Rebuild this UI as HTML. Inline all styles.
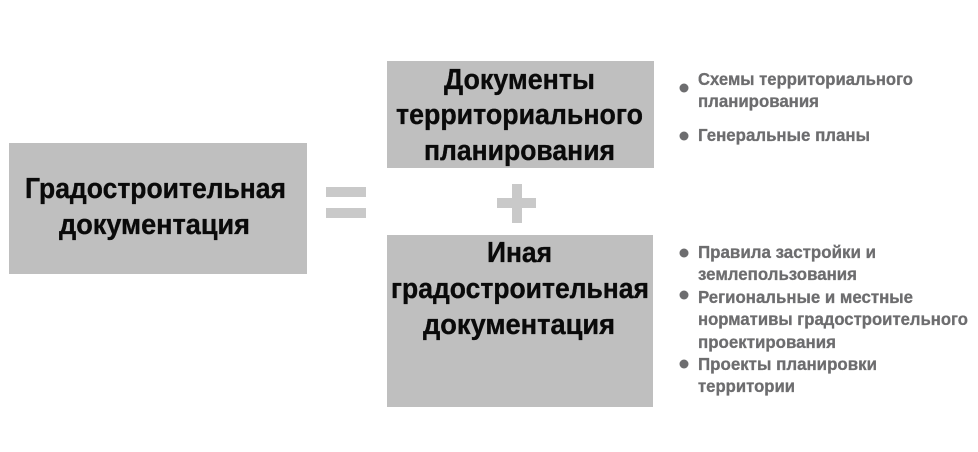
<!DOCTYPE html>
<html lang="ru">
<head>
<meta charset="utf-8">
<style>
html,body{margin:0;padding:0;background:#fff;width:978px;height:452px;overflow:hidden}
svg{display:block}
text{font-family:"Liberation Sans",sans-serif;font-weight:700}
.h{font-size:29px;fill:#0a0a0a;stroke:#0a0a0a;stroke-width:.35px}
.l{font-size:17.5px;fill:#6d6d6f;stroke:#6d6d6f;stroke-width:.3px}
</style>
</head>
<body>
<svg width="978" height="452" viewBox="0 0 978 452" xmlns="http://www.w3.org/2000/svg">
<rect x="9" y="143" width="298" height="131" fill="#bfbfbf"/>
<rect x="387" y="61" width="267" height="107" fill="#bfbfbf"/>
<rect x="387" y="235" width="266" height="172" fill="#bfbfbf"/>
<rect x="326" y="187" width="40" height="10" fill="#c9c9c9"/>
<rect x="326" y="208" width="40" height="10" fill="#c9c9c9"/>
<rect x="497" y="198" width="39" height="10" fill="#c9c9c9"/>
<rect x="512" y="184" width="10" height="39" fill="#c9c9c9"/>

<text class="h" x="25" y="198" textLength="261" lengthAdjust="spacingAndGlyphs">Градостроительная</text>
<text class="h" x="59" y="234" textLength="191" lengthAdjust="spacingAndGlyphs">документация</text>

<text class="h" x="444" y="89" textLength="151" lengthAdjust="spacingAndGlyphs">Документы</text>
<text class="h" x="396" y="124" textLength="247" lengthAdjust="spacingAndGlyphs">территориального</text>
<text class="h" x="424" y="160" textLength="191" lengthAdjust="spacingAndGlyphs">планирования</text>

<text class="h" x="487" y="262" textLength="65" lengthAdjust="spacingAndGlyphs">Иная</text>
<text class="h" x="391" y="298" textLength="258" lengthAdjust="spacingAndGlyphs">градостроительная</text>
<text class="h" x="423" y="334" textLength="192" lengthAdjust="spacingAndGlyphs">документация</text>

<circle cx="684" cy="88" r="4.5" fill="#6d6d6f"/>
<circle cx="684" cy="136" r="4.5" fill="#6d6d6f"/>
<circle cx="684" cy="253" r="4.5" fill="#6d6d6f"/>
<circle cx="684" cy="295" r="4.5" fill="#6d6d6f"/>
<circle cx="684" cy="364" r="4.5" fill="#6d6d6f"/>

<text class="l" x="698" y="85" textLength="215" lengthAdjust="spacingAndGlyphs">Схемы территориального</text>
<text class="l" x="698" y="107" textLength="121" lengthAdjust="spacingAndGlyphs">планирования</text>
<text class="l" x="698" y="141" textLength="172" lengthAdjust="spacingAndGlyphs">Генеральные планы</text>
<text class="l" x="698" y="258" textLength="178" lengthAdjust="spacingAndGlyphs">Правила застройки и</text>
<text class="l" x="698" y="280" textLength="159" lengthAdjust="spacingAndGlyphs">землепользования</text>
<text class="l" x="698" y="303" textLength="215" lengthAdjust="spacingAndGlyphs">Региональные и местные</text>
<text class="l" x="698" y="325" textLength="270" lengthAdjust="spacingAndGlyphs">нормативы градостроительного</text>
<text class="l" x="698" y="348" textLength="138" lengthAdjust="spacingAndGlyphs">проектирования</text>
<text class="l" x="698" y="370" textLength="179" lengthAdjust="spacingAndGlyphs">Проекты планировки</text>
<text class="l" x="698" y="392" textLength="97" lengthAdjust="spacingAndGlyphs">территории</text>
</svg>
</body>
</html>
